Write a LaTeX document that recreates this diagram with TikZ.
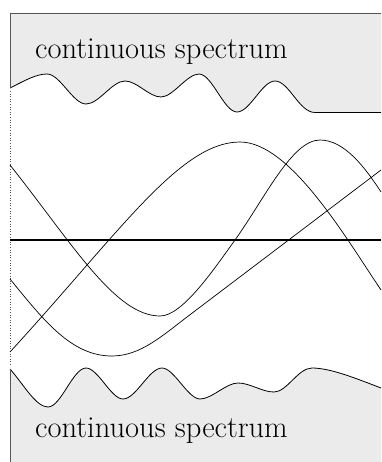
\documentclass[tikz,border=0pt]{standalone}
\definecolor{specgray}{HTML}{EBEBEB}
\definecolor{edgegray}{HTML}{555555}
\tikzset{
  specfill/.style={fill=specgray},
  wave/.style={draw=black, line width=0.8pt, line join=round},
  band/.style={draw=black, line width=0.7pt, line join=round},
  axisline/.style={draw=black, line width=1.8pt},
  edgeline/.style={draw=edgegray, line width=0.9pt},
  speclabel/.style={font=\fontsize{30.5}{33}\selectfont, anchor=base west, inner sep=0pt}
}
\def\topwave{(10,88) .. controls (24,81) and (36,74) .. (47,74)
  .. controls +(13,0) and +(-13,0) .. (86,104)
  .. controls +(13,0) and +(-13,0) .. (125,81)
  .. controls +(12,0) and +(-12,0) .. (161,97)
  .. controls +(12,0) and +(-12,0) .. (199,74)
  .. controls +(13,0) and +(-13,0) .. (237,112)
  .. controls +(13,0) and +(-13,0) .. (275,81)
  .. controls +(14,0) and +(-16,0) .. (315,112.5)
  -- (381,112.5)}
\def\botwave{(10,369) .. controls (24,385) and (36,407) .. (48,407)
  .. controls +(13,0) and +(-13,0) .. (86,368)
  .. controls +(12,0) and +(-12,0) .. (123,399)
  .. controls +(13,0) and +(-13,0) .. (162,368)
  .. controls +(12,0) and +(-12,0) .. (200,399)
  .. controls +(12,0) and +(-12,0) .. (238,383)
  .. controls +(12,0) and +(-12,0) .. (274,392)
  .. controls +(13,0) and +(-14,0) .. (312,368)
  .. controls (330,368) and (355,378) .. (381,388)}
\begin{document}
\begin{tikzpicture}[x=1pt,y=-1pt]
\useasboundingbox (0,0) rectangle (381,462);
% upper continuous spectrum
\fill[specfill] (381,13) -- (10,13) -- \topwave -- cycle;
\draw[wave] \topwave;
\draw[edgeline] (10,88) -- (10,13) -- (381,13);
% lower continuous spectrum
\fill[specfill] \botwave -- (381,462) -- (10,462) -- cycle;
\draw[wave] \botwave;
\draw[edgeline] (10,369) -- (10,462);
% dotted left edge
\draw[edgegray, dotted, line width=0.6pt] (10,91) -- (10,366);
% axis
\draw[axisline] (10,240) -- (381,240);
% eigenvalue curves
\draw[band] (10,165) .. controls (72,243) and (115,316) .. (160,316)
  .. controls (182,316) and (212,272) .. (235,240)
  .. controls (265,198) and (292,140) .. (320,140)
  .. controls (345,140) and (366,169) .. (381,192);
\draw[band] (10,352) .. controls (120,232) and (180,142) .. (240,142)
  .. controls (290,142) and (346,238) .. (381,290);
\draw[band] (10,279) .. controls (45,322) and (72,356) .. (112,356)
  .. controls (140,356) and (162,336) .. (187,317)
  -- (381,170);
% labels
\node[speclabel] (top) at (35,59) {continuous spectrum};
\node[speclabel] (bottom) at (35,437) {continuous spectrum};
\end{tikzpicture}
\end{document}
